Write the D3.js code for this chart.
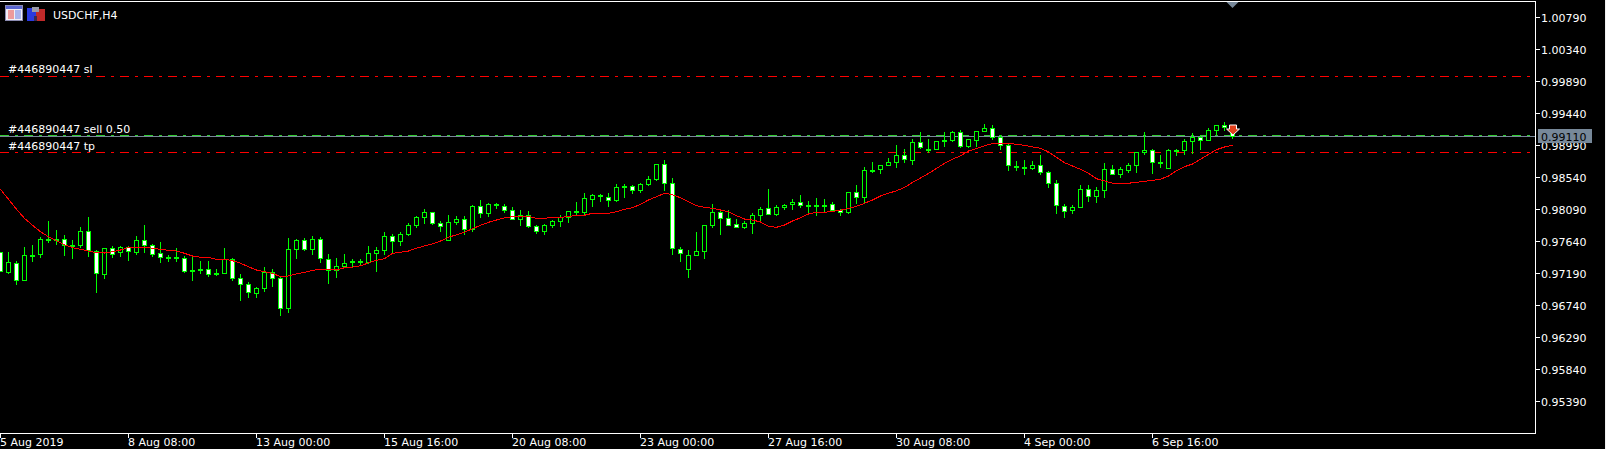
<!DOCTYPE html>
<html><head><meta charset="utf-8">
<script src="https://cdn.jsdelivr.net/npm/d3@7/dist/d3.min.js"></script>
<style>
html,body{margin:0;padding:0;background:#000;overflow:hidden}
svg{display:block}
text{font-family:"DejaVu Sans",sans-serif;font-size:11px;fill:#fff}
</style></head><body><div id="chart"></div>
<script>
const symbol = "USDCHF,H4";
const priceTicks = [1.00790,1.00340,0.99890,0.99440,0.98990,0.98540,0.98090,0.97640,0.97190,0.96740,0.96290,0.95840,0.95390];
const timeLabels = ["5 Aug 2019","8 Aug 08:00","13 Aug 00:00","15 Aug 16:00","20 Aug 08:00","23 Aug 00:00","27 Aug 16:00","30 Aug 08:00","4 Sep 00:00","6 Sep 16:00"];
const barsPerLabel = 16;
const slPrice = 0.99960, tpPrice = 0.98892, sellPrice = 0.99131, bidPrice = 0.99110;
const slLabel = "#446890447 sl", sellLabel = "#446890447 sell 0.50", tpLabel = "#446890447 tp";

const opens = [
0.97485,0.97204,0.97331,0.97092,0.97443,0.97457,0.97668,0.97668,0.97668,0.97584,
0.97584,0.97781,0.97499,0.97176,0.97542,0.97485,0.97556,0.97485,0.97654,0.97584,
0.97471,0.97415,0.97415,0.97401,0.97232,0.97246,0.97246,0.97190,0.97190,0.97387,
0.97120,0.97035,0.96909,0.96979,0.97204,0.97120,0.96698,0.97527,0.97654,0.97527,
0.97668,0.97387,0.97232,0.97288,0.97359,0.97359,0.97345,0.97471,0.97513,0.97710,
0.97640,0.97738,0.97865,0.97977,0.98048,0.97893,0.97654,0.97907,0.97949,0.97809,
0.98132,0.98034,0.98160,0.98132,0.98076,0.97949,0.98006,0.97851,0.97781,0.97865,
0.97921,0.97977,0.98062,0.98048,0.98231,0.98287,0.98259,0.98217,0.98413,0.98413,
0.98357,0.98442,0.98512,0.98723,0.98456,0.97527,0.97246,0.97443,0.97499,0.97865,
0.98048,0.97963,0.97879,0.97837,0.97893,0.98006,0.98104,0.98020,0.98118,0.98160,
0.98188,0.98146,0.98146,0.98132,0.98160,0.98076,0.98048,0.98329,0.98259,0.98638,
0.98652,0.98709,0.98751,0.98849,0.98779,0.99032,0.98934,0.98934,0.99060,0.99060,
0.99173,0.98976,0.99060,0.99187,0.99229,0.99103,0.98990,0.98695,0.98681,0.98667,
0.98709,0.98610,0.98456,0.98132,0.98076,0.98118,0.98371,0.98273,0.98357,0.98652,
0.98582,0.98638,0.98709,0.98892,0.98920,0.98751,0.98667,0.98920,0.98920,0.99046,
0.99103,0.99060,0.99201,0.99271,0.99159];
const highs = [
0.97485,0.97485,0.97359,0.97556,0.97584,0.97696,0.97921,0.97795,0.97724,0.97654,
0.97837,0.97977,0.97513,0.97542,0.97570,0.97570,0.97570,0.97710,0.97865,0.97598,
0.97626,0.97443,0.97542,0.97429,0.97443,0.97359,0.97359,0.97246,0.97542,0.97401,
0.97176,0.97063,0.96993,0.97274,0.97246,0.97148,0.97682,0.97668,0.97682,0.97710,
0.97696,0.97457,0.97401,0.97457,0.97387,0.97387,0.97570,0.97556,0.97767,0.97738,
0.97767,0.97893,0.97992,0.98090,0.98048,0.97921,0.98006,0.97992,0.97992,0.98146,
0.98217,0.98174,0.98174,0.98160,0.98118,0.98076,0.98062,0.97865,0.97879,0.97935,
0.98006,0.98062,0.98188,0.98315,0.98301,0.98301,0.98315,0.98442,0.98442,0.98428,
0.98456,0.98554,0.98723,0.98779,0.98526,0.97556,0.97513,0.97767,0.97865,0.98160,
0.98062,0.98076,0.97949,0.97921,0.98034,0.98118,0.98371,0.98146,0.98160,0.98231,
0.98287,0.98202,0.98245,0.98231,0.98188,0.98090,0.98329,0.98428,0.98681,0.98751,
0.98709,0.98807,0.98990,0.98934,0.99074,0.99173,0.99074,0.99046,0.99173,0.99187,
0.99201,0.99074,0.99187,0.99285,0.99271,0.99131,0.99004,0.98765,0.98779,0.98765,
0.98849,0.98624,0.98498,0.98160,0.98146,0.98428,0.98428,0.98399,0.98737,0.98709,
0.98681,0.98737,0.98892,0.99173,0.98934,0.98849,0.98934,0.98934,0.99074,0.99159,
0.99117,0.99229,0.99271,0.99314,0.99187];
const lows = [
0.97218,0.97190,0.97035,0.97092,0.97359,0.97415,0.97626,0.97598,0.97443,0.97401,
0.97556,0.97429,0.96923,0.97120,0.97415,0.97429,0.97373,0.97457,0.97485,0.97429,
0.97345,0.97359,0.97359,0.97204,0.97092,0.97190,0.97148,0.97162,0.97190,0.97092,
0.96810,0.96852,0.96852,0.96937,0.97007,0.96599,0.96642,0.97401,0.97513,0.97457,
0.97345,0.97049,0.97134,0.97288,0.97288,0.97317,0.97331,0.97218,0.97457,0.97485,
0.97584,0.97724,0.97837,0.97893,0.97879,0.97781,0.97654,0.97879,0.97738,0.97781,
0.97977,0.97992,0.98104,0.98048,0.97949,0.97865,0.97837,0.97752,0.97738,0.97837,
0.97851,0.97907,0.98020,0.98020,0.98132,0.98202,0.98132,0.98202,0.98259,0.98315,
0.98329,0.98428,0.98498,0.98357,0.97457,0.97359,0.97134,0.97443,0.97401,0.97837,
0.97738,0.97865,0.97837,0.97823,0.97752,0.97935,0.98020,0.98006,0.98090,0.98090,
0.98118,0.98034,0.98006,0.98048,0.98062,0.98006,0.98034,0.98174,0.98188,0.98610,
0.98596,0.98709,0.98681,0.98751,0.98723,0.98948,0.98892,0.98934,0.98976,0.99046,
0.98962,0.98962,0.98976,0.99187,0.99074,0.98934,0.98638,0.98638,0.98582,0.98652,
0.98582,0.98399,0.98034,0.97977,0.98034,0.98118,0.98202,0.98188,0.98259,0.98582,
0.98540,0.98610,0.98610,0.98863,0.98596,0.98681,0.98667,0.98849,0.98863,0.98877,
0.98934,0.99060,0.99145,0.99201,0.99088];
const closes = [
0.97218,0.97345,0.97092,0.97443,0.97429,0.97668,0.97654,0.97654,0.97584,0.97570,
0.97781,0.97513,0.97190,0.97542,0.97457,0.97556,0.97499,0.97654,0.97584,0.97457,
0.97415,0.97401,0.97401,0.97218,0.97218,0.97232,0.97176,0.97176,0.97387,0.97120,
0.97035,0.96923,0.96979,0.97204,0.97120,0.96698,0.97527,0.97654,0.97527,0.97668,
0.97401,0.97232,0.97288,0.97331,0.97345,0.97345,0.97471,0.97513,0.97710,0.97640,
0.97738,0.97865,0.97977,0.98048,0.97893,0.97851,0.97907,0.97949,0.97809,0.98132,
0.98034,0.98160,0.98146,0.98076,0.97949,0.98006,0.97851,0.97781,0.97865,0.97921,
0.97977,0.98062,0.98048,0.98245,0.98287,0.98273,0.98217,0.98399,0.98399,0.98357,
0.98442,0.98512,0.98723,0.98456,0.97542,0.97471,0.97443,0.97499,0.97865,0.98048,
0.97963,0.97865,0.97837,0.97893,0.98006,0.98090,0.98020,0.98118,0.98146,0.98188,
0.98146,0.98132,0.98132,0.98146,0.98076,0.98048,0.98329,0.98259,0.98638,0.98624,
0.98709,0.98751,0.98849,0.98793,0.99032,0.98962,0.98920,0.99046,0.99046,0.99173,
0.98976,0.99074,0.99187,0.99229,0.99103,0.98990,0.98709,0.98681,0.98667,0.98709,
0.98610,0.98456,0.98146,0.98062,0.98118,0.98371,0.98273,0.98357,0.98652,0.98582,
0.98652,0.98709,0.98892,0.98920,0.98751,0.98737,0.98920,0.98906,0.99046,0.99103,
0.99060,0.99201,0.99271,0.99243,0.99117];
const movingAverage = [
0.98367,0.98227,0.98086,0.97959,0.97861,0.97771,0.97700,0.97644,0.97588,0.97546,
0.97523,0.97499,0.97475,0.97471,0.97489,0.97513,0.97546,0.97552,0.97552,0.97538,
0.97523,0.97509,0.97499,0.97467,0.97429,0.97411,0.97411,0.97383,0.97383,0.97363,
0.97327,0.97278,0.97232,0.97208,0.97186,0.97138,0.97148,0.97176,0.97200,0.97228,
0.97242,0.97242,0.97232,0.97264,0.97274,0.97292,0.97331,0.97369,0.97391,0.97467,
0.97481,0.97499,0.97538,0.97570,0.97598,0.97640,0.97692,0.97728,0.97763,0.97813,
0.97861,0.97903,0.97935,0.97967,0.97982,0.97988,0.97988,0.97959,0.97959,0.97973,
0.97973,0.97982,0.98002,0.98002,0.98030,0.98030,0.98030,0.98052,0.98086,0.98108,
0.98156,0.98217,0.98263,0.98311,0.98291,0.98248,0.98192,0.98136,0.98114,0.98100,
0.98076,0.98052,0.97996,0.97949,0.97935,0.97907,0.97847,0.97833,0.97865,0.97921,
0.97967,0.98020,0.98044,0.98044,0.98058,0.98072,0.98100,0.98128,0.98170,0.98217,
0.98273,0.98311,0.98347,0.98392,0.98463,0.98526,0.98589,0.98660,0.98733,0.98789,
0.98839,0.98906,0.98938,0.98980,0.99008,0.99018,0.99014,0.99000,0.98986,0.98962,
0.98944,0.98892,0.98817,0.98741,0.98695,0.98648,0.98592,0.98516,0.98484,0.98452,
0.98452,0.98452,0.98466,0.98480,0.98494,0.98508,0.98554,0.98628,0.98685,0.98723,
0.98789,0.98859,0.98924,0.98962,0.98986];

const W = 1606, H = 449;
const plotRight = 1535.5, plotBottom = 433.5, plotTop = 1.5;
const x = d3.scaleLinear().domain([0, opens.length - 1]).range([0.5, 1232.5]);
const y = d3.scaleLinear().domain([priceTicks[0], priceTicks[priceTicks.length - 1]]).range([17, 401]);
const py = v => Math.round(y(v)) + 0.5;

const svg = d3.select("#chart").append("svg").attr("width", W).attr("height", H);
svg.append("rect").attr("width", W).attr("height", H).attr("fill", "#000");
svg.append("rect").attr("x", W - 1).attr("width", 1).attr("height", H).attr("fill", "#f0f0f0");

const crisp = svg.append("g").attr("shape-rendering", "crispEdges");

// horizontal order lines
const hline = (v, colour, dash) => crisp.append("line")
  .attr("x1", 0).attr("x2", plotRight).attr("y1", py(v)).attr("y2", py(v))
  .attr("stroke", colour).attr("stroke-dasharray", dash || null);
hline(slPrice, "#ff0000", "9,6,3,6");
hline(tpPrice, "#ff0000", "9,6,3,6");
hline(sellPrice, "#32cd32", "9,6,3,6");
hline(bidPrice, "#778899");

// frame
crisp.append("path").attr("fill", "none").attr("stroke", "#fff")
  .attr("d", `M0,${plotTop}H${plotRight}V${plotBottom}H0`);

// price axis
const axisY = svg.append("g");
priceTicks.forEach(t => {
  crisp.append("line").attr("x1", plotRight).attr("x2", plotRight + 4)
    .attr("y1", py(t)).attr("y2", py(t)).attr("stroke", "#fff");
  axisY.append("text").attr("x", 1541).attr("y", Math.round(y(t)) + 5).text(t.toFixed(5));
});

// time axis
timeLabels.forEach((t, i) => {
  const px = x(i * barsPerLabel);
  crisp.append("line").attr("x1", px).attr("x2", px).attr("y1", plotBottom).attr("y2", plotBottom + 4).attr("stroke", "#fff");
  svg.append("text").attr("x", Math.floor(px)).attr("y", 446).text(t);
});

// candles
const idx = d3.range(opens.length);
const candles = crisp.append("g");
candles.selectAll("line.wick").data(idx).join("line").attr("class", "wick")
  .attr("x1", d => x(d)).attr("x2", d => x(d))
  .attr("y1", d => py(highs[d]) - 0.5).attr("y2", d => py(lows[d]) + 0.5)
  .attr("stroke", "#00ff00");
candles.selectAll("rect.body").data(idx).join("rect").attr("class", "body")
  .attr("x", d => x(d) - 2).attr("width", 4)
  .attr("y", d => py(Math.max(opens[d], closes[d])))
  .attr("height", d => py(Math.min(opens[d], closes[d])) - py(Math.max(opens[d], closes[d])))
  .attr("fill", d => closes[d] < opens[d] ? "#fff" : "#000")
  .attr("stroke", "#00ff00");

// moving average
crisp.append("path").attr("fill", "none").attr("stroke", "#ff0000")
  .attr("d", d3.line().x((d, i) => x(i)).y(d => y(d))(movingAverage));

// text labels
svg.append("text").attr("x", 53).attr("y", 19).text(symbol);
svg.append("text").attr("x", 8).attr("y", 73).text(slLabel);
svg.append("text").attr("x", 8).attr("y", 133).text(sellLabel);
svg.append("text").attr("x", 8).attr("y", 150).text(tpLabel);

// bid price box
svg.append("rect").attr("x", 1538).attr("y", 129).attr("width", 54).attr("height", 14).attr("fill", "#778899");
svg.append("text").attr("x", 1541).attr("y", 141).style("fill", "#000").text(bidPrice.toFixed(5));

// shift marker, order arrow
const cx = Math.floor(x(opens.length - 1)) + 0.5;
svg.append("path").attr("fill", "#778899").attr("d", `M${cx - 6},2H${cx + 6}L${cx},8Z`);
svg.append("path").attr("fill", "#e2401b").attr("stroke", "#fff").attr("stroke-width", 1)
  .attr("d", `M${cx - 3},125H${cx + 4}V129H${cx + 7}L${cx + 0.5},135L${cx - 6},129H${cx - 3}Z`);

// toolbar icons
const icons = svg.append("g").attr("shape-rendering", "crispEdges");
const box = (a, b, w, h, f, s) => icons.append("rect").attr("x", a).attr("y", b).attr("width", w).attr("height", h).attr("fill", f).attr("stroke", s || "none");
box(5.5, 5.5, 17, 15, "#f0eef4", "#8a8ab0");
box(6, 6, 16, 3, "#5a66d0");
box(8, 10, 6, 9, "#ee9a9a");
box(15, 10, 6, 9, "#aab4ec");
box(27, 8, 9, 13, "#2a3ae0");
box(36, 9, 9, 12, "#c02a2a");
box(32, 7, 7, 5, "#9a9aa8");
box(34, 16, 3, 5, "#3a2a50");
</script></body></html>
